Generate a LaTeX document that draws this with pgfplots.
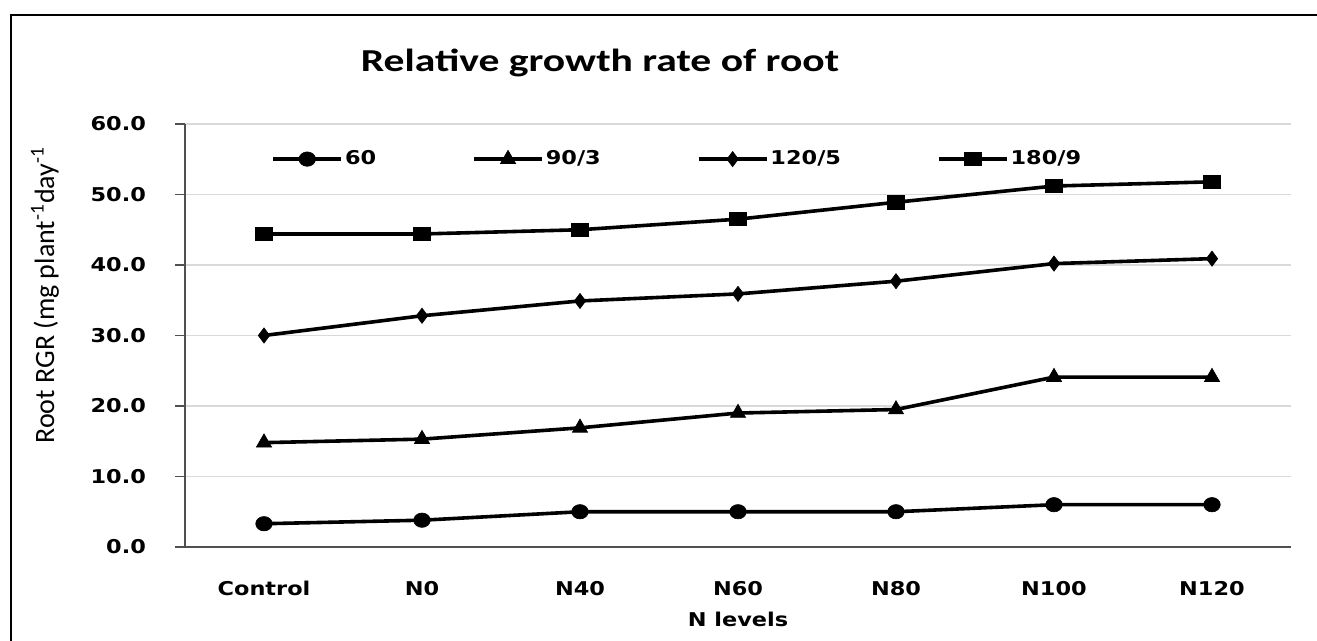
\documentclass[border=0pt]{standalone}
\usepackage{fontspec}
\usepackage{pgfplots}
\pgfplotsset{compat=1.18}
\setmainfont{Carlito}
\newfontfamily\tickfont{DejaVu Sans}[FakeStretch=1.18]
\newfontfamily\titlefont{Carlito}[FakeStretch=1.3]
\definecolor{gridgray}{RGB}{217,217,217}
\definecolor{axgray}{RGB}{80,80,80}
\newcommand{\tf}{\tickfont\bfseries\fontsize{9.5}{11}\selectfont}
\begin{document}
\begin{tikzpicture}
\path[use as bounding box] (-92.5pt,-47pt) rectangle (566pt,273.5pt);
\begin{axis}[
  scale only axis, width=553pt, height=211.5pt,
  xmin=-0.5, xmax=6.5, ymin=0, ymax=60,
  xtick={0,1,2,3,4,5,6},
  xticklabels={Control,N0,N40,N60,N80,N100,N120},
  ytick={0,10,20,30,40,50,60},
  yticklabels={0.0,10.0,20.0,30.0,40.0,50.0,60.0},
  axis x line*=bottom, axis y line*=left,
  axis line style={axgray, line width=0.8pt, -},
  ymajorgrids, grid style={gridgray, line width=0.8pt},
  tick align=outside, major tick length=5pt,
  ytick style={axgray, line width=0.8pt},
  xtick style={draw=none},
  ticklabel style={font=\tf},
  xticklabel style={yshift=-8.5pt},
  yticklabel style={xshift=-11pt},
  legend columns=4,
  legend style={draw=none, fill=none, at={(0.0778,0.917)}, anchor=west,
    inner sep=0pt, font=\tf,
    /tikz/every even column/.append style={column sep=47pt},
    nodes={inner xsep=1pt}},
  legend image code/.code={\draw[mark repeat=2,mark phase=2,#1] plot coordinates {(0pt,0pt) (17pt,0pt) (34pt,0pt)};},
  every axis plot/.append style={black, line width=1.8pt},
]
\addplot[mark=*, mark size=3.6pt, mark options={solid, line width=0.3pt, xscale=1.15}]
  coordinates {(0,3.3)(1,3.8)(2,5.0)(3,5.0)(4,5.0)(5,6.0)(6,6.0)};
\addlegendentry{60}
\addplot[mark=triangle*, mark size=4.4pt, mark options={solid, line width=0.3pt}]
  coordinates {(0,14.8)(1,15.3)(2,16.9)(3,19.0)(4,19.5)(5,24.1)(6,24.1)};
\addlegendentry{90/3}
\addplot[mark=diamond*, mark size=3.8pt, mark options={solid, line width=0.3pt}]
  coordinates {(0,30.0)(1,32.8)(2,34.9)(3,35.9)(4,37.7)(5,40.2)(6,40.9)};
\addlegendentry{120/5}
\addplot[mark=square*, mark size=3.3pt, mark options={solid, line width=0.3pt, xscale=1.25}]
  coordinates {(0,44.4)(1,44.4)(2,45.0)(3,46.5)(4,48.9)(5,51.2)(6,51.8)};
\addlegendentry{180/9}
\end{axis}
\node[font=\titlefont\bfseries\fontsize{16}{19}\selectfont] at (207.5pt,242pt) {Relative growth rate of root};
\node[rotate=90, font=\fontsize{14}{16}\selectfont] at (-70pt,126pt) {Root RGR (mg plant\textsuperscript{-1}day\textsuperscript{-1}};
\node[font=\tf] at (276.5pt,-36pt) {N levels};
\draw[line width=1.3pt] (-87pt,-47pt) -- (-87pt,266pt) -- (566pt,266pt);
\end{tikzpicture}
\end{document}
